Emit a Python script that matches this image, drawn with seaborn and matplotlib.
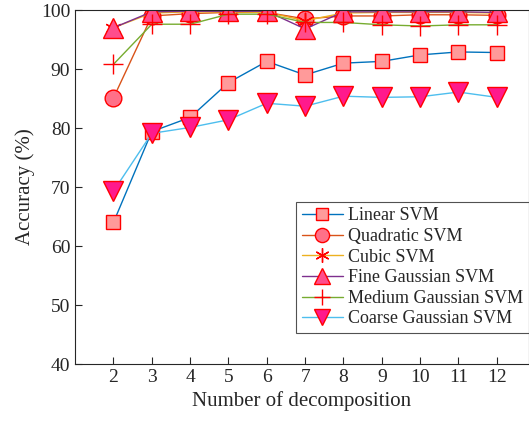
import matplotlib
matplotlib.use("Agg")
import matplotlib.pyplot as plt
import seaborn as sns
import pandas as pd

decomp = [2, 3, 4, 5, 6, 7, 8, 9, 10, 11, 12]
linear_svm = [64.0, 79.4, 81.8, 87.7, 91.3, 89.0, 91.0, 91.3, 92.4, 92.9, 92.8]
quadratic_svm = [85.1, 99.0, 99.4, 99.6, 99.6, 98.5, 99.0, 99.0, 99.2, 99.2, 99.1]
cubic_svm = [97.0, 99.5, 99.7, 99.7, 99.6, 98.2, 99.5, 99.6, 99.6, 99.6, 99.5]
fine_gaussian_svm = [97.0, 99.7, 99.8, 99.8, 99.8, 96.8, 99.7, 99.7, 99.7, 99.7, 99.6]
medium_gaussian_svm = [90.8, 97.6, 97.6, 99.3, 99.3, 97.9, 97.9, 97.5, 97.3, 97.5, 97.5]
coarse_gaussian_svm = [69.3, 79.1, 80.1, 81.4, 84.2, 83.7, 85.4, 85.2, 85.3, 86.1, 85.2]

names = ["Linear SVM", "Quadratic SVM", "Cubic SVM", "Fine Gaussian SVM",
         "Medium Gaussian SVM", "Coarse Gaussian SVM"]
series = [linear_svm, quadratic_svm, cubic_svm, fine_gaussian_svm,
          medium_gaussian_svm, coarse_gaussian_svm]
line_colors = ["#0072BD", "#D95319", "#EDB120", "#7E2F8E", "#77AC30", "#4DBEEE"]
markers = ["s", "o", (6, 2, 0), "^", "+", "v"]
face_colors = ["#FF9A9A", "#FF7088", "#FF0000", "#FF4D8C", "#FF0000", "#FF1A8C"]
msizes = [10, 12, 12, 14, 14, 14]

sns.set_style("ticks")
plt.rcParams["font.family"] = ["Liberation Serif", "DejaVu Serif"]
plt.rcParams["mathtext.fontset"] = "stix"

fig = plt.figure(figsize=(5.29, 4.28), dpi=100)
ax = fig.add_axes([0.142, 0.1495, 0.858, 0.827])

for name, vals, lc, mk, fc, ms in zip(names, series, line_colors, markers, face_colors, msizes):
    df = pd.DataFrame({"x": decomp, "y": vals})
    if fc == "#FF0000":
        kw = dict(markerfacecolor="red", markeredgecolor="red", markeredgewidth=1.0)
    else:
        kw = dict(markerfacecolor=fc, markeredgecolor="red", markeredgewidth=1.0)
    sns.lineplot(data=df, x="x", y="y", ax=ax, color=lc, linewidth=1.0,
                 marker=mk, markersize=ms, label=name, **kw)

ax.set_xlim(1, 12.84)
ax.set_ylim(40, 100)
ax.set_xticks(decomp)
ax.set_yticks([40, 50, 60, 70, 80, 90, 100])
ax.tick_params(direction="in", labelsize=14, colors="#262626", length=5)
ax.set_xlabel("Number of decomposition", fontsize=15, color="#262626")
ax.set_ylabel("Accuracy (%)", fontsize=15, color="#262626")
for s in ax.spines.values():
    s.set_color("#262626")
    s.set_linewidth(0.8)

leg = ax.legend(loc="lower right", bbox_to_anchor=(1.0, 0.088), fontsize=13,
                frameon=True, fancybox=False, edgecolor="#262626",
                handlelength=2.3, borderpad=0.3, labelspacing=0.2,
                handletextpad=0.3, borderaxespad=0.0, markerscale=0.85)
leg.get_frame().set_linewidth(0.8)
for t in leg.get_texts():
    t.set_color("#262626")

fig.savefig("out.png", dpi=100)
